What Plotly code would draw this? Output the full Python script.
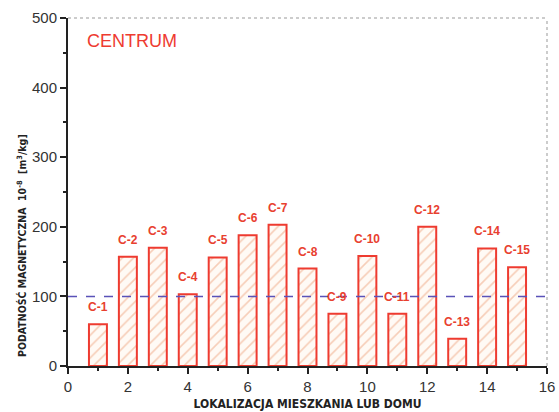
import plotly.graph_objects as go

# Magnetic susceptibility per sampled flat/house, city-centre district
positions = list(range(1, 16))
sample_ids = [f"C-{i}" for i in positions]
susceptibility = [60, 157, 170, 103, 156, 188, 203, 140, 75, 158, 75, 200, 39, 169, 142]
threshold = 100

x_ticks = [0, 2, 4, 6, 8, 10, 12, 14, 16]
y_ticks = [0, 100, 200, 300, 400, 500]

RED = "#ee3b30"
LABEL_RED = "#e8402f"
HATCH = "#eea07a"

fig = go.Figure()

fig.add_trace(go.Bar(
    x=positions,
    y=susceptibility,
    width=0.6,
    marker=dict(
        color="white",
        line=dict(color=RED, width=2),
        pattern=dict(shape="/", fgcolor=HATCH, bgcolor="#fffaf5", size=8, solidity=0.2),
    ),
    showlegend=False,
    hoverinfo="skip",
))

# reference level
fig.add_trace(go.Scatter(
    x=[0, 16], y=[threshold, threshold],
    mode="lines",
    line=dict(color="#5a52b8", width=1.5, dash="dash"),
    showlegend=False,
    hoverinfo="skip",
))

# sample labels above each bar
for xi, name, val in zip(positions, sample_ids, susceptibility):
    fig.add_annotation(
        x=xi, y=val, text=f"<b>{name}</b>",
        showarrow=False, yanchor="middle", yshift=17,
        font=dict(family="Liberation Sans, Arial", size=12, color=LABEL_RED),
    )

fig.add_annotation(
    xref="paper", yref="paper", x=0.035, y=0.935,
    xanchor="left", yanchor="middle",
    text="CENTRUM", showarrow=False,
    font=dict(family="Liberation Sans Narrow, Liberation Sans, Arial", size=18, color=RED),
)

title_font = dict(family="Liberation Sans Narrow, DejaVu Sans Condensed, Arial Narrow", size=10.5, color="#222222")

# y-axis title, placed in the lower part of the left margin
fig.add_annotation(
    xref="paper", yref="paper", x=-0.096, y=0.345,
    xanchor="center", yanchor="middle", textangle=-90,
    text="<b>PODATNOŚĆ MAGNETYCZNA  10<sup>-8</sup>  [m<sup>3</sup>/kg]</b>",
    showarrow=False, font=title_font,
)

# dotted frame on top and right
fig.add_shape(type="line", xref="x domain", yref="y domain", x0=0, x1=1, y0=1, y1=1,
              line=dict(color="#999999", width=1, dash="dot"))
fig.add_shape(type="line", xref="x domain", yref="y domain", x0=1, x1=1, y0=0, y1=1,
              line=dict(color="#999999", width=1, dash="dot"))

axis_font = dict(family="Liberation Sans, Arial", size=15, color="#333333")

fig.update_xaxes(
    range=[0, 16], tickvals=x_ticks, ticktext=[str(v) for v in x_ticks],
    showline=True, linecolor="#222222", linewidth=2,
    ticks="outside", ticklen=6, tickwidth=1.5, tickcolor="#222222",
    minor=dict(dtick=1, tick0=0, ticks="outside", ticklen=3, tickcolor="#222222", showgrid=False),
    showgrid=False, zeroline=False, tickfont=axis_font, automargin=False,
    title=dict(text="<b>LOKALIZACJA MIESZKANIA LUB DOMU</b>",
               font=dict(title_font, size=12), standoff=6),
)
fig.update_yaxes(
    range=[0, 500], tickvals=y_ticks, ticktext=[str(v) for v in y_ticks],
    showline=True, linecolor="#222222", linewidth=2,
    ticks="outside", ticklen=6, tickwidth=1.5, tickcolor="#222222",
    minor=dict(dtick=50, tick0=0, ticks="outside", ticklen=3, tickcolor="#222222", showgrid=False),
    showgrid=False, zeroline=False, tickfont=axis_font, automargin=False,
)

fig.update_layout(
    width=559, height=412,
    margin=dict(l=68, r=12, t=18, b=46),
    plot_bgcolor="white", paper_bgcolor="white",
    bargap=0.4,
)

fig.write_html("out.html")
